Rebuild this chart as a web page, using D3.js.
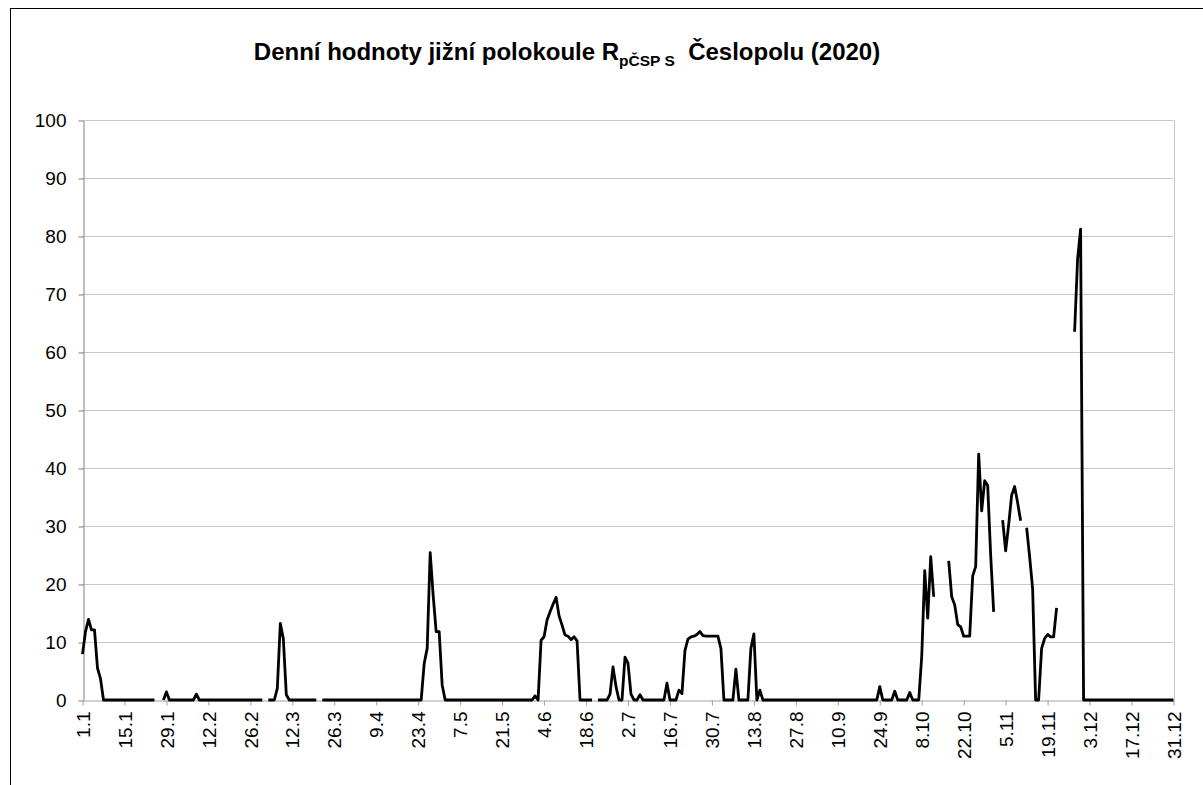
<!DOCTYPE html>
<html>
<head>
<meta charset="utf-8">
<script src="https://cdn.jsdelivr.net/npm/d3@7"></script>
<style>
  body { margin: 0; background: #fff; }
  svg { display: block; font-family: "Liberation Sans", Arial, sans-serif; }
</style>
</head>
<body>
<div id="chart"></div>
<script>
// tick labels, one every 14 days
const tickLabels = ["1.1", "15.1", "29.1", "12.2", "26.2", "12.3", "26.3", "9.4", "23.4", "7.5",
    "21.5", "4.6", "18.6", "2.7", "16.7", "30.7", "13.8", "27.8", "10.9", "24.9",
    "8.10", "22.10", "5.11", "19.11", "3.12", "17.12", "31.12"];

const yTicks = [0, 10, 20, 30, 40, 50, 60, 70, 80, 90, 100];

// daily values, null = no observation
const dailyValues = [
    7.9, 11.8, 13.9, 12.1, 12.1, 5.5, 3.7, 0, 0, 0,
    0, 0, 0, 0, 0, 0, 0, 0, 0, 0,
    0, 0, 0, 0, 0, null, null, 0, 1.4, 0,
    0, 0, 0, 0, 0, 0, 0, 0, 1.0, 0,
    0, 0, 0, 0, 0, 0, 0, 0, 0, 0,
    0, 0, 0, 0, 0, 0, 0, 0, 0, 0,
    0, null, 0, 0, 0, 2, 13.2, 10.6, 0.9, 0,
    0, 0, 0, 0, 0, 0, 0, 0, 0, null,
    0, 0, 0, 0, 0, 0, 0, 0, 0, 0,
    0, 0, 0, 0, 0, 0, 0, 0, 0, 0,
    0, 0, 0, 0, 0, 0, 0, 0, 0, 0,
    0, 0, 0, 0, 6.3, 8.9, 25.4, 18, 11.8, 11.8,
    2.6, 0, 0, 0, 0, 0, 0, 0, 0, 0,
    0, 0, 0, 0, 0, 0, 0, 0, 0, 0,
    0, 0, 0, 0, 0, 0, 0, 0, 0, 0,
    0, 0.7, 0, 10.3, 10.9, 13.8, 15.2, 16.5, 17.7, 14.5,
    12.9, 11.2, 11, 10.4, 10.9, 10.2, 0, 0, 0, 0,
    0, null, 0, 0, 0, 0, 1, 5.7, 2.3, 0,
    0, 7.4, 6.3, 1, 0, 0, 0.9, 0, 0, 0,
    0, 0, 0, 0, 0, 2.9, 0, 0, 0, 1.7,
    1.1, 8.5, 10.5, 10.9, 11, 11.3, 11.8, 11.1, 11, 11,
    11, 11, 11, 8.9, 0, 0, 0, 0, 5.3, 0,
    0, 0, 0, 8.9, 11.4, 0, 1.7, 0, 0, 0,
    0, 0, 0, 0, 0, 0, 0, 0, 0, 0,
    0, 0, 0, 0, 0, 0, 0, 0, 0, 0,
    0, 0, 0, 0, 0, 0, 0, 0, 0, 0,
    0, 0, 0, 0, 0, 0, 2.3, 0, 0, 0,
    0, 1.5, 0, 0, 0, 0, 1.3, 0, 0, 0,
    7.5, 22.3, 14.1, 24.7, 17.8, null, null, null, null, 24,
    17.8, 16.4, 13, 12.6, 11, 11, 11, 21.4, 23, 42.4,
    32.6, 37.8, 37, 25, 15.2, null, null, 31, 25.7, 30.2,
    35.3, 36.8, 34, 30.9, null, 29.7, 24.7, 19.2, 0, 0,
    8.9, 10.6, 11.3, 10.9, 10.9, 15.9, null, null, null, null,
    null, 63.5, 76, 81.2, 0, 0, 0, 0, 0, 0,
    0, 0, 0, 0, 0, 0, 0, 0, 0, 0,
    0, 0, 0, 0, 0, 0, 0, 0, 0, 0,
    0, 0, 0, 0, 0
];

const tickStep = 14;

class DailyLineChart {

    constructor(dom_id, settings) {
        this.dom_id = dom_id;
        this.width = settings.width || 1203;
        this.height = settings.height || 785;
        // plot area in page pixels
        this.plot = {left: 82.5, right: 1173.5, top: 120, bottom: 700};
        this.create();
    }

    create() {
        let plot = this.plot;

        let svg = d3.select(this.dom_id).append("svg")
            .attr("width", this.width)
            .attr("height", this.height);

        // outer chart frame (only top and left edges are visible)
        svg.append("rect")
            .attr("x", 10.5).attr("y", 8.5)
            .attr("width", 1400).attr("height", 1000)
            .attr("fill", "none")
            .attr("stroke", "#000");

        let x = d3.scaleLinear([0, dailyValues.length - 1], [plot.left, plot.right]);
        let y = d3.scaleLinear([0, 100], [plot.bottom, plot.top]);

        // gridlines
        svg.append("g")
            .selectAll("line")
            .data(yTicks.slice(1))
            .join("line")
                .attr("x1", plot.left).attr("x2", plot.right)
                .attr("y1", d => Math.round(y(d)) + 0.5)
                .attr("y2", d => Math.round(y(d)) + 0.5)
                .attr("stroke", "#c8c8c8");

        // right border of plot area
        svg.append("line")
            .attr("x1", Math.round(plot.right) + 0.5).attr("x2", Math.round(plot.right) + 0.5)
            .attr("y1", plot.top).attr("y2", plot.bottom)
            .attr("stroke", "#c8c8c8");

        // y axis
        let yAxis = svg.append("g")
            .attr("transform", `translate(${Math.round(plot.left) + 0.5},0.5)`)
            .call(d3.axisLeft(y).tickValues(yTicks).tickSize(5).tickPadding(12).tickSizeOuter(0));
        yAxis.select(".domain").attr("stroke", "#808080");
        yAxis.selectAll(".tick line").attr("stroke", "#808080");
        yAxis.selectAll("text")
            .attr("font-size", 19)
            .attr("fill", "#000");

        // x axis, a tick every 14 days
        let tickIdx = tickLabels.map((d, i) => i * tickStep);
        let xAxis = svg.append("g")
            .attr("transform", `translate(0,${plot.bottom + 0.5})`)
            .call(d3.axisBottom(x)
                .tickValues(tickIdx)
                .tickFormat((d, i) => tickLabels[i])
                .tickSize(5).tickSizeOuter(0));
        xAxis.select(".domain").attr("stroke", "#a0a0a0");
        xAxis.selectAll(".tick line").attr("stroke", "#a0a0a0");
        xAxis.selectAll("text")
            .attr("font-size", 19)
            .attr("fill", "#000")
            .attr("text-anchor", "end")
            .attr("dy", "0.35em")
            .attr("transform", "translate(0,11) rotate(-90)")
            .attr("x", 0).attr("y", 0);

        // the data line, broken where values are missing
        let line = d3.line()
            .defined(d => d != null)
            .x((d, i) => x(i))
            .y(d => y(d));

        svg.append("path")
            .datum(dailyValues)
            .attr("fill", "none")
            .attr("stroke", "#000")
            .attr("stroke-width", 2.8)
            .attr("stroke-linejoin", "round")
            .attr("d", line);

        // title with subscript
        let title = svg.append("text")
            .attr("x", 567)
            .attr("y", 60)
            .attr("text-anchor", "middle")
            .attr("font-size", 24)
            .attr("font-weight", "bold")
            .attr("fill", "#000");
        title.append("tspan").text("Denní hodnoty jižní polokoule R");
        title.append("tspan").attr("font-size", 15.5).attr("dy", 6).text("pČSP S");
        title.append("tspan").attr("dy", -6).text("\u00a0\u00a0Česlopolu (2020)");
    }
}

new DailyLineChart("#chart", {width: 1203, height: 785});
</script>
</body>
</html>
